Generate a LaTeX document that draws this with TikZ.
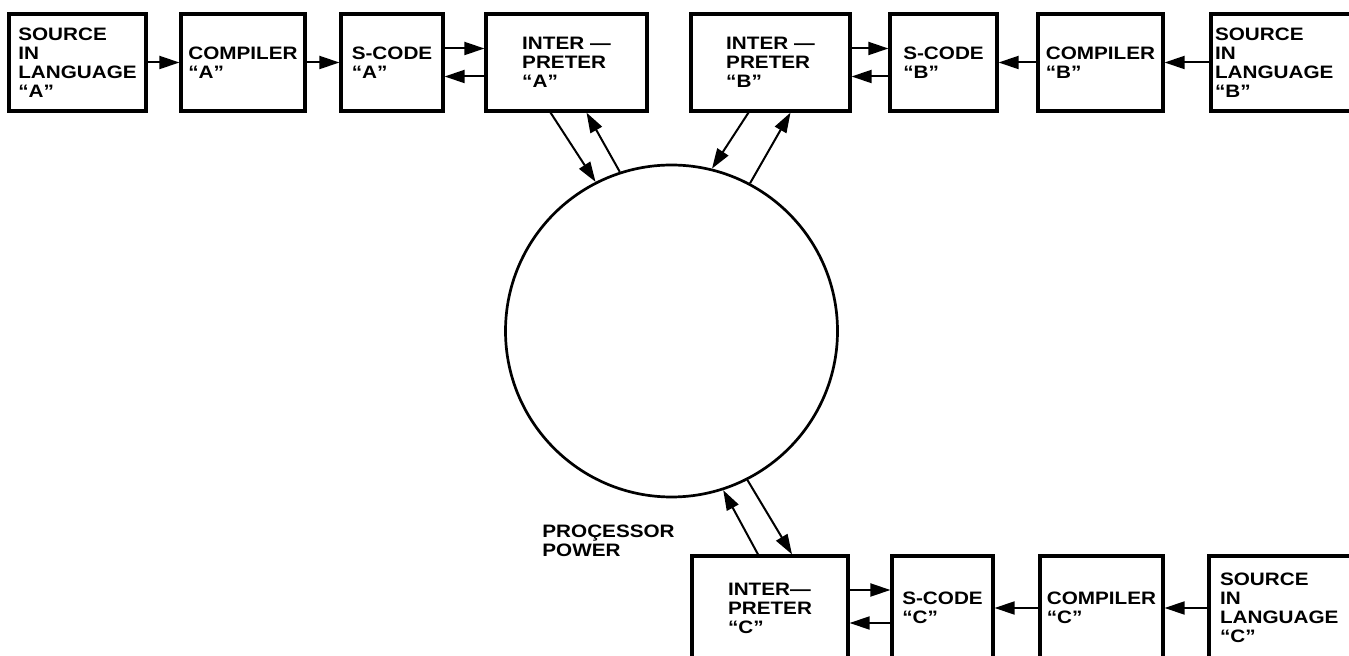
\documentclass[tikz,border=0pt]{standalone}
\usepackage{fontspec}
\newfontfamily\diafont[FakeStretch=1.15]{Liberation Sans}
\usetikzlibrary{arrows.meta}

\tikzset{
  box/.style={draw, line width=1.6pt, align=left, inner sep=0pt},
  srcbox/.style={box, line width=2.2pt},
  flow/.style={line width=1pt, -{Triangle[length=10pt,width=6.5pt]}},
}

\begin{document}
\begin{tikzpicture}[x=0.5pt, y=-0.5pt,
    font=\diafont\bfseries\fontsize{9}{9.5}\selectfont]
    \useasboundingbox (0,0) rectangle (1349,656);
    % language A
    \node[srcbox, minimum width=68.5pt, minimum height=48.5pt] (srcA) at (77.5,62.5) {SOURCE\\IN\\LANGUAGE\\“A”};
    \node[box, minimum width=62pt, minimum height=48.5pt] (compA) at (243,62.5) {COMPILER\\“A”};
    \node[box, minimum width=51pt, minimum height=48.5pt] (scodeA) at (392,62.5) {S-CODE\\“A”};
    \node[box, minimum width=80.5pt, minimum height=48.5pt] (intA) at (566.5,62.5) {INTER —\\PRETER\\“A”};
    % language B
    \node[box, minimum width=79.5pt, minimum height=48.5pt] (intB) at (770.5,62.5) {INTER —\\PRETER\\“B”};
    \node[box, minimum width=53.5pt, minimum height=48.5pt] (scodeB) at (943.5,62.5) {S-CODE\\“B”};
    \node[box, minimum width=62.5pt, minimum height=48.5pt] (compB) at (1100.5,62.5) {COMPILER\\“B”};
    \node[srcbox, text width=70pt, minimum width=74pt, minimum height=48.5pt] (srcB) at (1285,62.5) {SOURCE\\IN\\LANGUAGE\\“B”};
    % language C
    \node[box, minimum width=78pt, minimum height=52pt] (intC) at (770,608) {INTER—\\PRETER\\“C”};
    \node[box, minimum width=50.5pt, minimum height=52pt] (scodeC) at (942.5,608) {S-CODE\\“C”};
    \node[box, minimum width=61.5pt, minimum height=52pt] (compC) at (1101.5,608) {COMPILER\\“C”};
    \node[srcbox, text width=65pt, minimum width=76pt, minimum height=52pt] (srcC) at (1285,608) {SOURCE\\IN\\LANGUAGE\\“C”};

    \node[draw, circle, line width=1.35pt, minimum size=166pt, inner sep=0pt] (cpu) at (671.5,331) {};
    \node[anchor=west, align=left, inner sep=0pt] (cpulabel) at (542,540.5) {PROÇESSOR\\POWER};

    \draw[flow] (srcA.east) -- (compA.west);
    \draw[flow] (compA.east) -- (scodeA.west);
    \draw[flow] ([yshift=7pt]scodeA.east) -- ([yshift=7pt]intA.west);
    \draw[flow] ([yshift=-7pt]intA.west) -- ([yshift=-7pt]scodeA.east);

    \draw[flow] ([yshift=7pt]intB.east) -- ([yshift=7pt]scodeB.west);
    \draw[flow] ([yshift=-7pt]scodeB.west) -- ([yshift=-7pt]intB.east);
    \draw[flow] (compB.west) -- (scodeB.east);
    \draw[flow] (srcB.west) -- (compB.east);

    \draw[flow] ([yshift=9pt]intC.east) -- ([yshift=9pt]scodeC.west);
    \draw[flow] ([yshift=-7.5pt]scodeC.west) -- ([yshift=-7.5pt]intC.east);
    \draw[flow] (compC.west) -- (scodeC.east);
    \draw[flow] (srcC.west) -- (compC.east);

    % to and from the processor
    \draw[flow] ([xshift=-8pt]intA.south) -- (cpu.117);
    \draw[flow] (cpu.108) -- ([xshift=10pt]intA.south);
    \draw[flow] ([xshift=-11pt]intB.south) -- (cpu.76);
    \draw[flow] (cpu.62) -- ([xshift=10pt]intB.south);
    \draw[flow] ([xshift=-6pt]intC.north) -- (cpu.-72);
    \draw[flow] (cpu.-63) -- ([xshift=11pt]intC.north);
\end{tikzpicture}
\end{document}
